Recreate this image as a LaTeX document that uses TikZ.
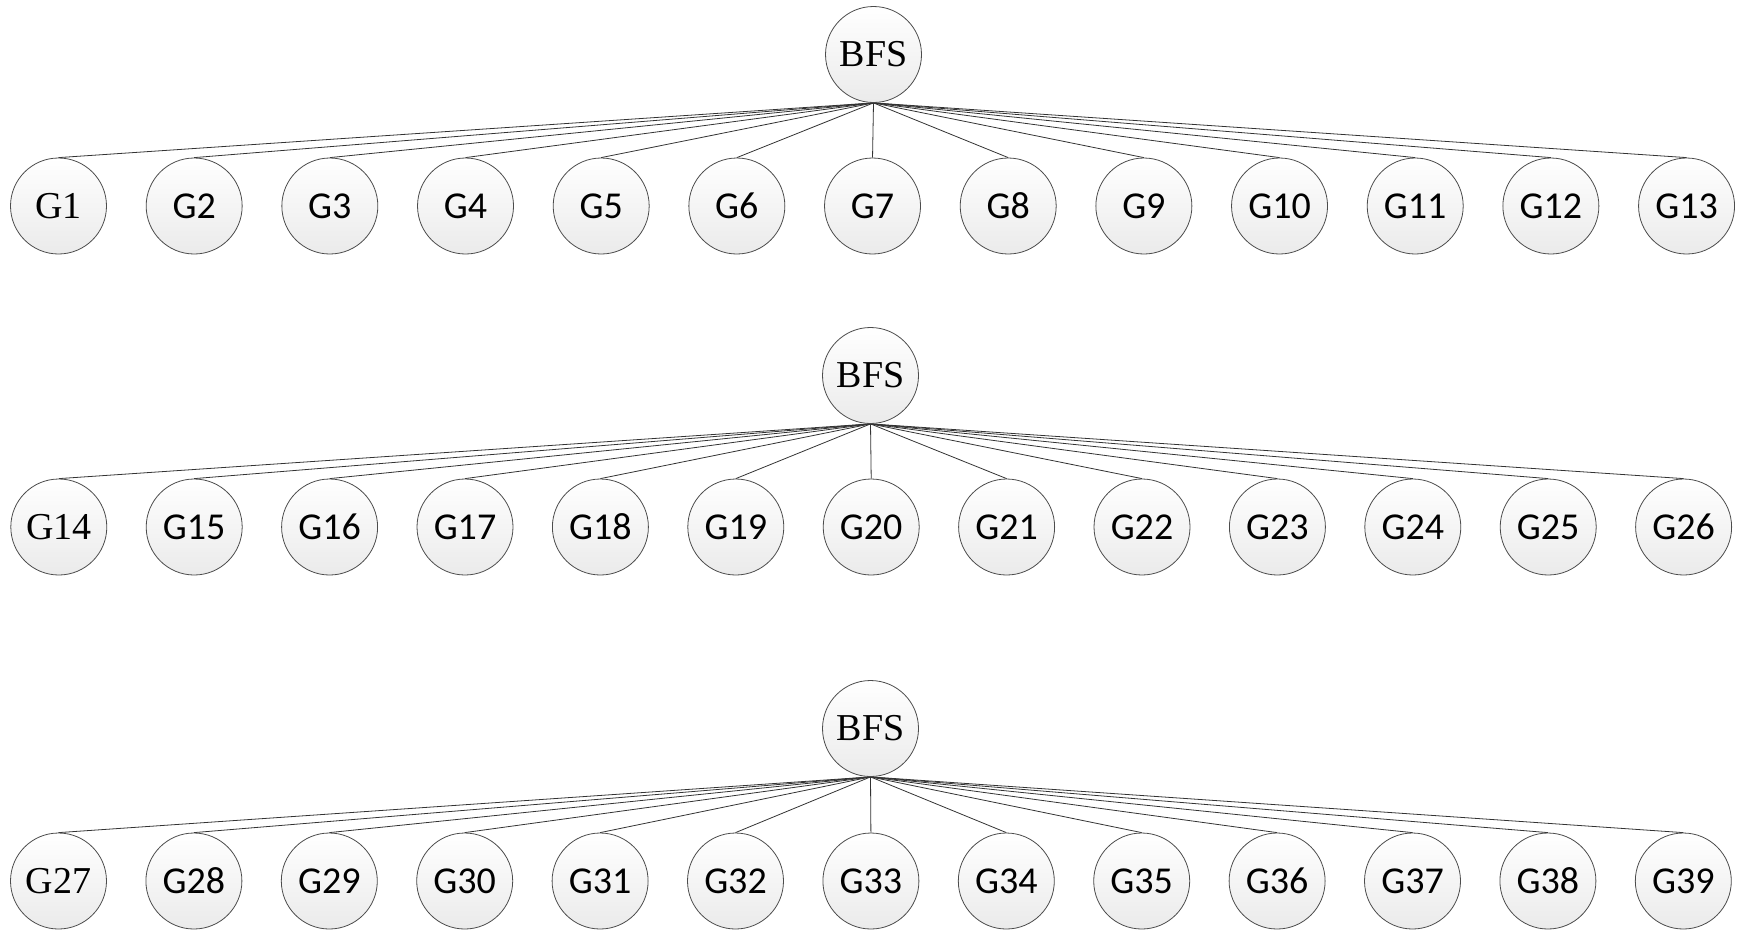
\documentclass[tikz,border=0pt]{standalone}
\usepackage{fontspec}
\setmainfont{Carlito}
\newfontfamily\serifface{Liberation Serif}
\pgfdeclarelayer{bg}
\pgfsetlayers{bg,main}
\begin{document}
\begin{tikzpicture}[x=1pt,y=-1pt,
  gnode/.style={circle, draw=black!70, line width=0.8pt, minimum size=96pt, inner sep=0pt,
    top color=white, bottom color=black!8, font=\fontsize{38}{38}\selectfont},
  snode/.style={gnode, font=\serifface\fontsize{38}{38}\selectfont},
  edge/.style={draw=black!80, line width=0.8pt}]
\useasboundingbox (0,0) rectangle (1739,930);
\foreach \r/\by/\bx/\cy/\cx/\dx/\off in {1/54.5/873.5/206/58.5/135.67/0, 2/375.5/870.5/527/58.8/135.4/13, 3/728.5/870.5/881/58.5/135.4/26} {
  \node[snode] (b\r) at (\bx,\by) {BFS};
  \foreach \i in {1,...,13} {
    \pgfmathtruncatemacro\n{\i+\off}
    \pgfmathsetmacro\xx{\cx+(\i-1)*\dx}
    \ifnum\i=1
      \node[snode] (g\n) at (\xx,\cy) {G\n};
    \else
      \node[gnode] (g\n) at (\xx,\cy) {G\n};
    \fi
    \begin{pgfonlayer}{bg}
      \draw[edge] (b\r.south) -- (g\n.north);
    \end{pgfonlayer}
  }
}
\end{tikzpicture}
\end{document}
